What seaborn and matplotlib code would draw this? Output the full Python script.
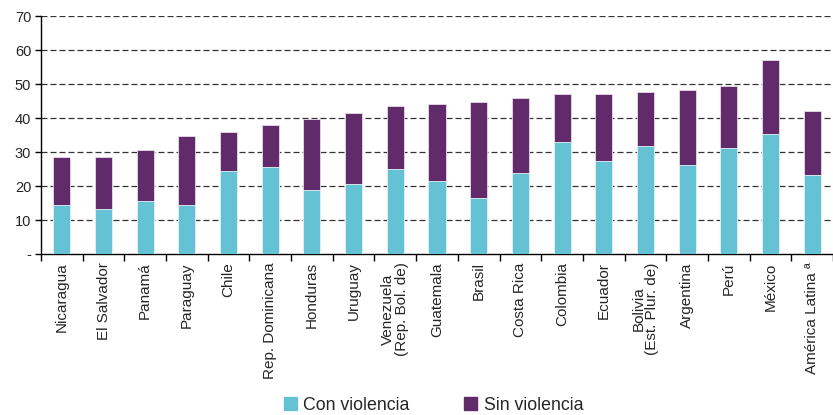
import numpy as np
import pandas as pd
import matplotlib
matplotlib.use('Agg')
import matplotlib.pyplot as plt
import matplotlib.patches as mpatches
import seaborn as sns

# ── datos ─────────────────────────────────────────────────────────────────────
paises = ['Nicaragua', 'El Salvador', 'Panamá', 'Paraguay', 'Chile',
          'Rep. Dominicana', 'Honduras', 'Uruguay', 'Venezuela\n(Rep. Bol. de)',
          'Guatemala', 'Brasil', 'Costa Rica', 'Colombia', 'Ecuador',
          'Bolivia\n(Est. Plur. de)', 'Argentina', 'Perú', 'México',
          'América Latina ª']
con_violencia = [14.3, 13.1, 15.5, 14.3, 24.4, 25.6, 18.8, 20.5, 25.0,
                 21.6, 16.6, 23.9, 32.9, 27.3, 31.8, 26.2, 31.3, 35.2, 23.3]
total = [28.4, 28.4, 30.6, 34.6, 35.8, 38.0, 39.8, 41.4, 43.6,
         44.2, 44.8, 45.9, 47.0, 47.0, 47.6, 48.1, 49.3, 57.2, 42.0]
y_ticks = [0, 10, 20, 30, 40, 50, 60, 70]
y_labels = ['-', '10', '20', '30', '40', '50', '60', '70']

CIAN = '#65C2D5'
MORADO = '#612A6A'

df = pd.DataFrame({'pais': paises, 'con': con_violencia, 'total': total})

sns.set_style('white')
plt.rcParams['font.family'] = ['Liberation Sans', 'DejaVu Sans']

fig = plt.figure(figsize=(8.33, 4.15), dpi=100)
ax = fig.add_axes([41 / 833, 1 - 254 / 415, 1 - 41 / 833, (254 - 16) / 415])

sns.barplot(data=df, x='pais', y='total', color=MORADO, saturation=1,
            width=0.41, edgecolor='#e8dcea', linewidth=0.6, ax=ax, zorder=3)
sns.barplot(data=df, x='pais', y='con', color=CIAN, saturation=1,
            width=0.41, edgecolor='#e6f5f8', linewidth=0.6, ax=ax, zorder=4)

n = len(paises)
ax.set_xlim(-0.5, n - 1 + 12 / 42.2)
ax.set_ylim(0, 70)

# rejilla discontinua
for y in y_ticks[1:]:
    ax.axhline(y, color='#333333', lw=0.9, ls=(0, (4.8, 2.4)), zorder=1)

ax.set_yticks(y_ticks)
ax.set_yticklabels(y_labels, fontsize=10.5)
ax.tick_params(axis='y', direction='out', length=4, width=1, color='black', pad=3, left=True)

ax.set_xticks(range(n))
ax.set_xticklabels(paises, rotation=90, fontsize=11, linespacing=1.0)
ax.tick_params(axis='x', length=0, pad=6)
ax.set_xticks(np.arange(-0.5, n, 1), minor=True)
ax.tick_params(axis='x', which='minor', direction='out', length=5, width=1, color='black', bottom=True)

ax.set_xlabel('')
ax.set_ylabel('')
for s in ['top', 'right']:
    ax.spines[s].set_visible(False)
for s in ['left', 'bottom']:
    ax.spines[s].set_color('black')
    ax.spines[s].set_linewidth(1.0)

handles = [mpatches.Patch(color=CIAN, label='Con violencia'),
           mpatches.Patch(color=MORADO, label='Sin violencia')]
fig.legend(handles=handles, loc='center', bbox_to_anchor=(433.5 / 833, 1 - 405 / 415),
           ncol=2, frameon=False, fontsize=12.8, handlelength=0.73, handleheight=0.73,
           handletextpad=0.35, columnspacing=3.1, borderpad=0)

fig.savefig('out.png', dpi=100)
